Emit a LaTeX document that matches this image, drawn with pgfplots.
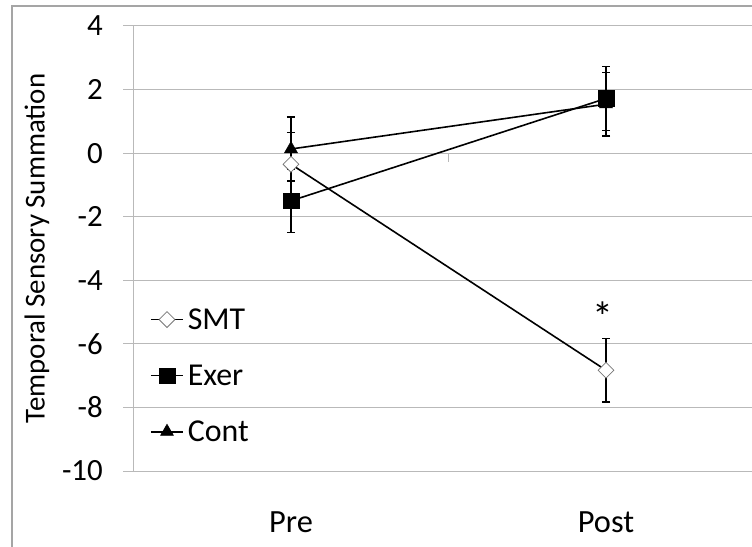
\documentclass[border=0pt]{standalone}
\usepackage{fontspec}
\setmainfont{Carlito}
\usepackage{pgfplots}
\pgfplotsset{compat=1.18}
\definecolor{gridgray}{RGB}{185,185,185}
\definecolor{framegray}{RGB}{165,165,165}
\definecolor{diamgray}{RGB}{120,120,120}
\begin{document}
\begin{tikzpicture}
\useasboundingbox (-133.5bp,-76bp) rectangle (618.5bp,471bp);
\draw[framegray, line width=1.2bp] (-121.5bp,-76bp) -- (-121.5bp,465bp) -- (618.5bp,465bp);
\begin{axis}[
  scale only axis, width=618.5bp, height=445bp,
  xmin=-0.5, xmax=1.4635, ymin=-10, ymax=4,
  ytick={-10,-8,...,4},
  xtick={0,1}, xticklabels={Pre,Post},
  axis y line*=left, axis x line*=bottom,
  x axis line style={draw=gridgray, line width=1bp},
  y axis line style={draw=gridgray, line width=1bp},
  ymajorgrids, grid style={gridgray, line width=1bp},
  ytick style={gridgray, line width=1bp},
  xtick style={draw=none},
  major tick length=10bp, tick align=outside,
  /pgf/number format/assume math mode=true,
  yticklabel style={font=\fontsize{31}{37}\selectfont, inner sep=0pt, xshift=-20.5bp},
  xticklabel style={font=\fontsize{32.5}{38}\selectfont, inner sep=0pt, yshift=-31bp},
  ylabel={Temporal Sensory Summation},
  ylabel style={font=\fontsize{29}{34}\selectfont, at={([xshift=-96.5bp]axis description cs:0,0.5)}, anchor=center},
  legend cell align=left,
  legend image code/.code={\draw[mark repeat=2, mark phase=2, #1] plot coordinates {(0bp,0bp) (16bp,0bp) (32bp,0bp)};},
  legend style={at={(axis cs:-0.5,-7)}, anchor=west, xshift=16.5bp, draw=none, fill=none, inner sep=0pt, row sep=34bp, column sep=4bp, font=\fontsize{32}{38}\selectfont, nodes={inner sep=0pt}},
  error bars/y dir=both, error bars/y explicit,
  error bars/error bar style={black, line width=1.5bp},
  error bars/error mark options={rotate=90, mark size=4bp, line width=1.5bp, black},
]
\addplot[black, line width=1.6bp, mark=square*, mark size=5.6bp, mark options={rotate=45, fill=white, draw=diamgray, line width=0.8bp}]
  coordinates {(0,-0.35) +- (0,1.0) (1,-6.83) +- (0,1.0)};
\addlegendentry{SMT}
\addplot[black, line width=1.6bp, mark=square*, mark size=7.8bp, mark options={fill=black, draw=black, line width=0.5bp}]
  coordinates {(0,-1.5) +- (0,1.0) (1,1.72) +- (0,1.0)};
\addlegendentry{Exer}
\addplot[black, line width=1.6bp, mark=triangle*, mark size=7.5bp, mark options={fill=black, draw=black, line width=0.5bp}]
  coordinates {(0,0.13) +- (0,1.0) (1,1.54) +- (0,1.0)};
\addlegendentry{Cont}
\draw[gridgray, line width=1bp] (axis cs:0.5,0) -- ([yshift=-9bp]axis cs:0.5,0);
\node[font=\fontsize{42}{48}\selectfont, anchor=base, inner sep=0pt] at (axis cs:0.99,-5.62) {*};
\end{axis}
\end{tikzpicture}
\end{document}
